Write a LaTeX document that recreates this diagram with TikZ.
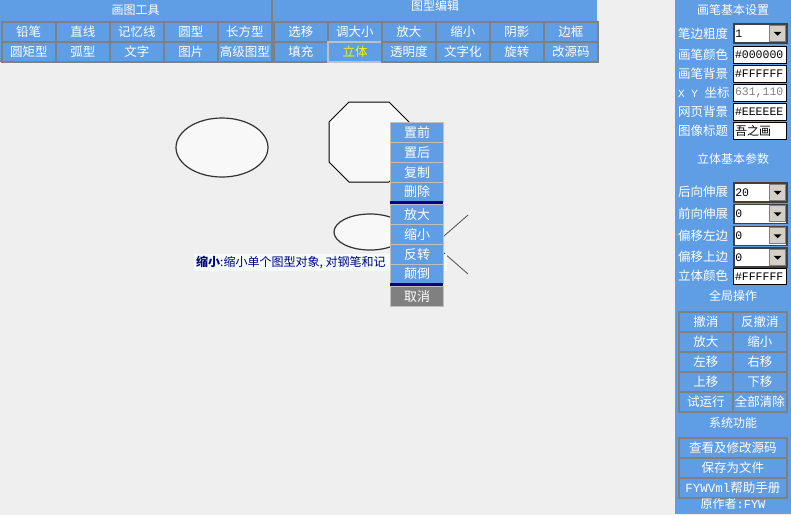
\documentclass[tikz,border=0pt]{standalone}
\usepackage{fontspec}
\usepackage{tikz}
\newfontfamily\cjk{Noto Sans CJK SC}
\newfontfamily\codefont{Liberation Mono}
\definecolor{uiblue}{HTML}{5F9DE5}
\definecolor{canvas}{HTML}{EFEFEF}
\definecolor{btnline}{HTML}{808080}
\definecolor{dropgrey}{HTML}{D4D0C8}
\definecolor{navy}{HTML}{000080}
\definecolor{tipback}{HTML}{F3FBFB}
\definecolor{shapefill}{HTML}{F8F8F8}

\tikzset{
  btn/.style={draw=btnline, fill=uiblue, text=white, line width=1.5pt, inner sep=0pt,
    anchor=north west, minimum width=54pt, minimum height=20pt,
    font=\cjk\fontsize{12.5}{12.5}\selectfont},
  widebtn/.style={btn, minimum width=108pt},
  menuitem/.style={btn, draw=btnline!50, line width=1pt, minimum width=53pt,
    font=\cjk\fontsize{13}{13}\selectfont},
  heading/.style={text=white, inner sep=0pt, font=\cjk\fontsize{12}{12}\selectfont},
  fieldlabel/.style={heading, anchor=west, font=\cjk\fontsize{12.5}{12.5}\selectfont},
  field/.style={draw=black, fill=white, line width=1pt, anchor=north west, minimum height=17pt,
    text width=50pt, inner xsep=1.5pt, inner ysep=0pt, align=left,
    font=\codefont\fontsize{11.5}{11.5}\selectfont},
  combo/.style={field, draw=black!75, line width=1.5pt, minimum height=19pt},
  dropbtn/.style={draw=gray, fill=dropgrey, line width=0.6pt, anchor=east, minimum width=16pt,
    minimum height=16pt, inner sep=0pt,
    path picture={\fill [black] ([xshift=-4pt,yshift=1.5pt]path picture bounding box.center)
      -- ++(8pt,0pt) -- ++(-4pt,-4pt) -- cycle;}}
}

\begin{document}
\begin{tikzpicture}[x=1pt, y=-1pt]
    \useasboundingbox (0,0) rectangle (791,515);
    \fill [canvas] (0,0) rectangle (791,515);

    % top panels
    \fill [uiblue] (0,0) rectangle (271,61);
    \fill [uiblue] (273,0) rectangle (597,61);
    \draw [btnline, line width=2pt] (0,61) -- (597,61);
    \draw [btnline, line width=2pt] (272,0) -- (272,61);

    \node [heading] (drawtitle) at (135.5,10) {画图工具};
    \node [btn] (pencil) at (1,21) {铅笔};
    \node [btn] (line) at (55,21) {直线};
    \node [btn] (memline) at (109,21) {记忆线};
    \node [btn] (round) at (163,21) {圆型};
    \node [btn] (rect) at (217,21) {长方型};

    \node [btn] (roundrect) at (1,41) {圆矩型};
    \node [btn] (arc) at (55,41) {弧型};
    \node [btn] (text) at (109,41) {文字};
    \node [btn] (image) at (163,41) {图片};
    \node [btn] (advanced) at (217,41) {高级图型};

    \node [heading] (edittitle) at (435,6) {图型编辑};
    \node [btn] (select) at (273,21) {选移};
    \node [btn] (resize) at (327,21) {调大小};
    \node [btn] (enlarge) at (381,21) {放大};
    \node [btn] (shrink) at (435,21) {缩小};
    \node [btn] (shadow) at (489,21) {阴影};
    \node [btn] (border) at (543,21) {边框};

    \node [btn] (fillin) at (273,41) {填充};
    \node [btn, text=yellow, draw=gray!50, line width=2pt] (solid) at (327,41) {立体};
    \node [btn] (opacity) at (381,41) {透明度};
    \node [btn] (totext) at (435,41) {文字化};
    \node [btn] (rotate) at (489,41) {旋转};
    \node [btn] (source) at (543,41) {改源码};

    % canvas shapes
    \draw [black!80, line width=1.2pt, fill=shapefill] (222,147.5) ellipse [x radius=46, y radius=29.5];
    \draw [black, line width=1pt, fill=shapefill] (349,102) -- (389,102) -- (409,122) -- (409,162)
        -- (389,182) -- (349,182) -- (329,162) -- (329,122) -- cycle;
    \draw [black!80, line width=1.2pt, fill=shapefill] (370,232) ellipse [x radius=36, y radius=18];
    \draw [black!70, line width=0.8pt] (420,257) -- (468,215);
    \draw [black!70, line width=0.8pt] (420,232) -- (468,274);

    % tooltip
    \fill [tipback] (194,254) rectangle (447,271);
    \node [anchor=west, inner sep=0pt, text=navy, font=\cjk\fontsize{12}{12}\selectfont] (tip)
        at (196,262.5) {\textbf{缩小}:缩小单个图型对象, 对钢笔和记};

    % context menu
    \node [menuitem] (tofront) at (390,122) {置前};
    \node [menuitem] (toback) at (390,142) {置后};
    \node [menuitem] (copy) at (390,162) {复制};
    \node [menuitem, minimum height=19pt] (delete) at (390,182) {删除};
    \fill [navy] (390,201) rectangle (443,204);
    \node [menuitem] (zoomin) at (390,204) {放大};
    \node [menuitem] (zoomout) at (390,224) {缩小};
    \node [menuitem] (flip) at (390,244) {反转};
    \node [menuitem, minimum height=19pt] (invert) at (390,264) {颠倒};
    \fill [navy] (390,283) rectangle (443,286);
    \node [menuitem, fill=gray] (cancel) at (390,286) {取消};

    % right panel
    \fill [uiblue] (675,0) rectangle (791,514);
    \node [heading] (pentitle) at (733,10) {画笔基本设置};

    \node [fieldlabel] (widthlabel) at (678,34) {笔边粗度};
    \node [combo] (width) at (733,23) {1};
    \node [dropbtn] (widthdrop) at ([xshift=-1.5pt]width.east) {};
    \node [fieldlabel] (colorlabel) at (678,54.5) {画笔颜色};
    \node [field] (color) at (733,46) {\#000000};
    \node [fieldlabel] (backlabel) at (678,73.5) {画笔背景};
    \node [field] (back) at (733,65) {\#FFFFFF};
    \node [fieldlabel] (xylabel) at (678,92.5) {{\codefont\fontsize{11}{11}\selectfont X Y }坐标};
    \node [field, text=gray] (xy) at (733,84) {631,110};
    \node [fieldlabel] (pagelabel) at (678,111.5) {网页背景};
    \node [field] (page) at (733,103) {\#EEEEEE};
    \node [fieldlabel] (titlelabel) at (678,130.5) {图像标题};
    \node [field, font=\cjk\fontsize{12}{12}\selectfont] (imgtitle) at (733,122) {吾之画};

    \node [heading] (solidtitle) at (733,159) {立体基本参数};
    \node [fieldlabel] (backextlabel) at (678,192) {后向伸展};
    \node [combo] (backext) at (733,182) {20};
    \node [dropbtn] (backextdrop) at ([xshift=-1.5pt]backext.east) {};
    \node [fieldlabel] (frontextlabel) at (678,213.5) {前向伸展};
    \node [combo] (frontext) at (733,203.5) {0};
    \node [dropbtn] (frontextdrop) at ([xshift=-1.5pt]frontext.east) {};
    \node [fieldlabel] (leftlabel) at (678,235.5) {偏移左边};
    \node [combo] (left) at (733,225.5) {0};
    \node [dropbtn] (leftdrop) at ([xshift=-1.5pt]left.east) {};
    \node [fieldlabel] (toplabel) at (678,257) {偏移上边};
    \node [combo] (top) at (733,247) {0};
    \node [dropbtn] (topdrop) at ([xshift=-1.5pt]top.east) {};
    \node [fieldlabel] (solidcolorlabel) at (678,276) {立体颜色};
    \node [field, minimum height=16pt] (solidcolor) at (733,268) {\#FFFFFF};

    \node [heading] (globaltitle) at (733,296) {全局操作};
    \node [btn] (undo) at (678,311) {撤消};
    \node [btn] (redo) at (732,311) {反撤消};
    \node [btn] (allbig) at (678,331) {放大};
    \node [btn] (allsmall) at (732,331) {缩小};
    \node [btn] (moveleft) at (678,351) {左移};
    \node [btn] (moveright) at (732,351) {右移};
    \node [btn] (moveup) at (678,371) {上移};
    \node [btn] (movedown) at (732,371) {下移};
    \node [btn] (trial) at (678,391) {试运行};
    \node [btn] (clearall) at (732,391) {全部清除};

    \node [heading] (systitle) at (733,423) {系统功能};
    \node [widebtn] (viewsrc) at (678,437) {查看及修改源码};
    \node [widebtn] (save) at (678,457) {保存为文件};
    \node [widebtn] (help) at (678,477) {{\codefont FYWVml}帮助手册};
    \node [heading] (author) at (733,504) {原作者{\codefont :FYW}};
\end{tikzpicture}
\end{document}
